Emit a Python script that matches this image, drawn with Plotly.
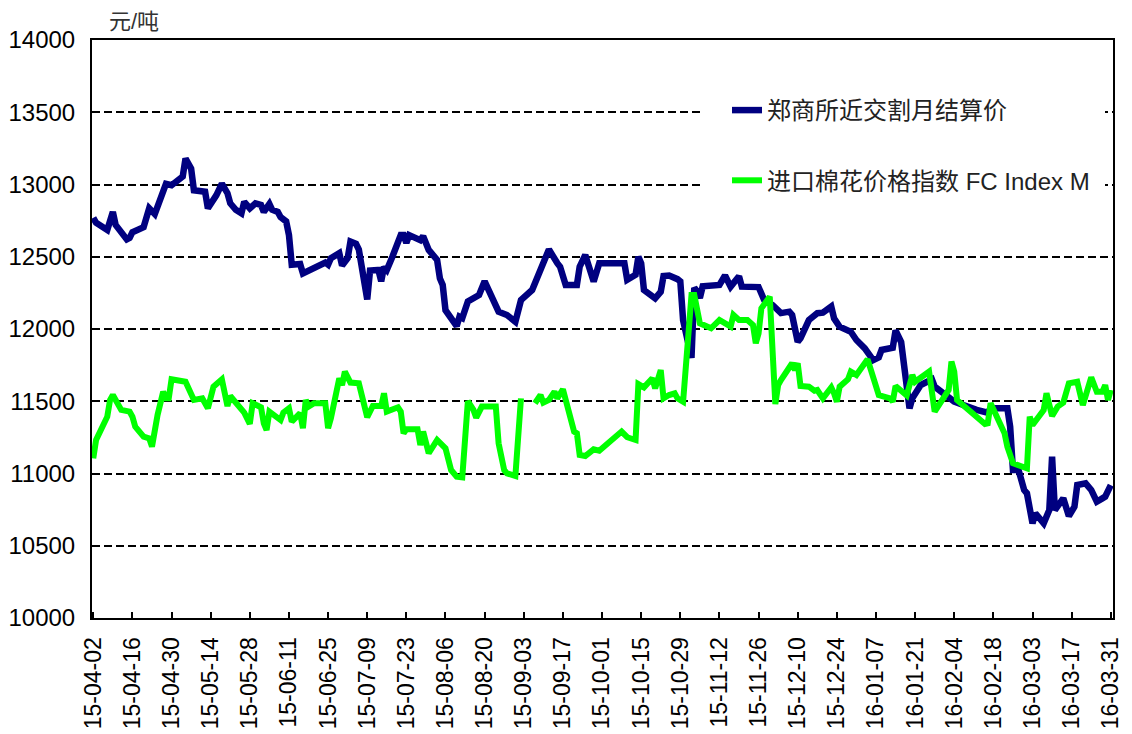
import plotly.graph_objects as go

# 郑商所近交割月结算价 (navy)
zc_dates = ["2015-04-02","2015-04-03","2015-04-07","2015-04-09","2015-04-10","2015-04-14","2015-04-15","2015-04-16","2015-04-20","2015-04-22","2015-04-24","2015-04-28","2015-04-30","2015-05-04","2015-05-05","2015-05-07","2015-05-08","2015-05-12","2015-05-13","2015-05-14","2015-05-16","2015-05-18","2015-05-20","2015-05-21","2015-05-23","2015-05-25","2015-05-26","2015-05-28","2015-05-30","2015-06-01","2015-06-02","2015-06-04","2015-06-05","2015-06-07","2015-06-08","2015-06-10","2015-06-11","2015-06-12","2015-06-15","2015-06-16","2015-06-20","2015-06-24","2015-06-25","2015-06-26","2015-06-29","2015-06-30","2015-07-02","2015-07-03","2015-07-05","2015-07-06","2015-07-09","2015-07-10","2015-07-13","2015-07-14","2015-07-15","2015-07-16","2015-07-18","2015-07-21","2015-07-22","2015-07-23","2015-07-24","2015-07-28","2015-07-29","2015-07-31","2015-08-03","2015-08-04","2015-08-05","2015-08-06","2015-08-10","2015-08-11","2015-08-12","2015-08-14","2015-08-18","2015-08-20","2015-08-25","2015-08-28","2015-08-31","2015-09-02","2015-09-06","2015-09-09","2015-09-10","2015-09-12","2015-09-15","2015-09-16","2015-09-18","2015-09-22","2015-09-23","2015-09-25","2015-09-28","2015-09-30","2015-10-09","2015-10-10","2015-10-13","2015-10-14","2015-10-15","2015-10-16","2015-10-20","2015-10-22","2015-10-23","2015-10-25","2015-10-28","2015-10-29","2015-10-30","2015-11-02","2015-11-03","2015-11-04","2015-11-05","2015-11-06","2015-11-12","2015-11-14","2015-11-16","2015-11-19","2015-11-20","2015-11-25","2015-11-26","2015-11-28","2015-12-01","2015-12-04","2015-12-07","2015-12-08","2015-12-10","2015-12-11","2015-12-14","2015-12-17","2015-12-19","2015-12-22","2015-12-23","2015-12-25","2015-12-29","2015-12-31","2016-01-03","2016-01-06","2016-01-08","2016-01-09","2016-01-13","2016-01-14","2016-01-16","2016-01-19","2016-01-20","2016-01-23","2016-01-25","2016-01-27","2016-01-28","2016-02-01","2016-02-04","2016-02-12","2016-02-16","2016-02-17","2016-02-23","2016-02-24","2016-02-25","2016-02-27","2016-02-29","2016-03-01","2016-03-03","2016-03-04","2016-03-07","2016-03-09","2016-03-10","2016-03-11","2016-03-14","2016-03-16","2016-03-18","2016-03-19","2016-03-22","2016-03-24","2016-03-26","2016-03-28","2016-03-29","2016-03-31"]
zc_values = [12770,12735,12685,12810,12720,12620,12630,12670,12705,12835,12795,13005,12995,13055,13180,13110,12960,12950,12835,12860,12925,13005,12940,12870,12825,12800,12880,12835,12870,12858,12810,12865,12825,12810,12775,12745,12650,12445,12450,12385,12420,12460,12445,12490,12525,12440,12490,12605,12590,12550,12205,12404,12408,12330,12430,12408,12500,12650,12650,12595,12650,12615,12643,12547,12478,12350,12305,12130,12020,12085,12075,12190,12235,12330,12120,12097,12050,12200,12270,12408,12431,12551,12455,12431,12305,12305,12431,12512,12328,12455,12455,12340,12375,12500,12455,12270,12212,12258,12367,12370,12345,12330,12060,11800,12285,12260,12215,12295,12305,12370,12293,12365,12293,12289,12290,12200,12166,12110,12120,12097,11912,11936,12062,12109,12113,12155,12074,12016,11981,11924,11866,11785,11804,11855,11870,11990,11910,11451,11520,11612,11635,11652,11601,11543,11497,11440,11421,11451,11451,11324,11024,11024,10886,10863,10655,10725,10655,10747,11116,10747,10828,10706,10770,10920,10932,10886,10805,10828,10840,10920]

# 进口棉花价格指数 FC Index M (green)
fc_dates = ["2015-04-02","2015-04-03","2015-04-07","2015-04-08","2015-04-09","2015-04-12","2015-04-15","2015-04-16","2015-04-17","2015-04-20","2015-04-22","2015-04-23","2015-04-25","2015-04-27","2015-04-28","2015-04-29","2015-04-30","2015-05-05","2015-05-08","2015-05-11","2015-05-13","2015-05-15","2015-05-18","2015-05-20","2015-05-21","2015-05-23","2015-05-25","2015-05-26","2015-05-28","2015-05-29","2015-06-01","2015-06-02","2015-06-03","2015-06-04","2015-06-08","2015-06-09","2015-06-11","2015-06-12","2015-06-15","2015-06-16","2015-06-17","2015-06-18","2015-06-20","2015-06-24","2015-06-25","2015-06-26","2015-06-29","2015-06-30","2015-07-01","2015-07-03","2015-07-06","2015-07-09","2015-07-11","2015-07-14","2015-07-15","2015-07-16","2015-07-20","2015-07-21","2015-07-22","2015-07-23","2015-07-27","2015-07-28","2015-07-29","2015-07-31","2015-08-03","2015-08-06","2015-08-08","2015-08-10","2015-08-12","2015-08-14","2015-08-16","2015-08-17","2015-08-19","2015-08-24","2015-08-25","2015-08-27","2015-08-28","2015-08-31","2015-09-02","2015-09-04","2015-09-07","2015-09-08","2015-09-09","2015-09-10","2015-09-12","2015-09-14","2015-09-15","2015-09-17","2015-09-19","2015-09-21","2015-09-22","2015-09-23","2015-09-25","2015-09-28","2015-09-30","2015-10-08","2015-10-10","2015-10-13","2015-10-14","2015-10-16","2015-10-19","2015-10-20","2015-10-22","2015-10-23","2015-10-25","2015-10-27","2015-10-28","2015-10-30","2015-11-02","2015-11-03","2015-11-05","2015-11-09","2015-11-12","2015-11-16","2015-11-17","2015-11-19","2015-11-22","2015-11-24","2015-11-25","2015-11-26","2015-11-27","2015-11-30","2015-12-02","2015-12-03","2015-12-04","2015-12-08","2015-12-09","2015-12-10","2015-12-11","2015-12-14","2015-12-16","2015-12-17","2015-12-19","2015-12-22","2015-12-23","2015-12-24","2015-12-25","2015-12-28","2015-12-29","2015-12-31","2016-01-04","2016-01-08","2016-01-12","2016-01-13","2016-01-14","2016-01-18","2016-01-20","2016-01-21","2016-01-26","2016-01-27","2016-01-28","2016-02-02","2016-02-03","2016-02-04","2016-02-05","2016-02-15","2016-02-16","2016-02-17","2016-02-20","2016-02-22","2016-02-23","2016-02-25","2016-03-01","2016-03-02","2016-03-03","2016-03-05","2016-03-07","2016-03-08","2016-03-10","2016-03-12","2016-03-14","2016-03-16","2016-03-19","2016-03-21","2016-03-24","2016-03-26","2016-03-28","2016-03-29","2016-03-30","2016-03-31"]
fc_values = [11105,11232,11393,11509,11543,11440,11428,11393,11324,11255,11243,11186,11405,11566,11520,11520,11652,11635,11509,11520,11451,11601,11652,11467,11536,11486,11440,11421,11343,11486,11458,11347,11301,11428,11370,11421,11451,11359,11417,11313,11509,11463,11486,11486,11313,11382,11659,11612,11705,11629,11624,11389,11467,11467,11555,11428,11458,11428,11278,11306,11306,11197,11290,11140,11232,11174,11024,10978,10973,11500,11440,11386,11463,11463,11209,11024,11001,10983,11520,None,11486,11514,11543,11490,11509,11566,11520,11583,11440,11290,11278,11128,11121,11167,11158,11290,11251,11232,11619,11596,11659,11589,11716,11520,11543,11555,11520,11497,12235,12235,12039,12005,12062,12016,12097,12062,12062,12028,11901,11970,12143,12224,11481,11612,11647,11763,11716,11763,11606,11601,11573,11578,11520,11596,11555,11497,11601,11652,11705,11682,11790,11543,11520,11497,11606,11540,11682,11635,11705,11543,11428,11578,11774,11705,11509,11343,11347,11486,11347,11278,11186,11071,11036,11393,11336,11382,11440,11555,11398,11463,11490,11624,11635,11474,11666,11566,11566,11612,11509,11578]

series_names = ["郑商所近交割月结算价", "进口棉花价格指数 FC Index M"]
series_colors = ["#000080", "#00FF00"]
y_unit = "元/吨"

FONT = "Liberation Sans, Arial, Noto Sans CJK SC, sans-serif"

# The page body has an 8px margin, so the figure is sized 8px smaller than the window.
W, H = 1124, 726
ML, MR, MT, MB = 84, 19, 32, 116
PW, PH = W - ML - MR, H - MT - MB


def px_x(px):  # window pixel -> paper x
    return (px - 8 - ML) / PW


def px_y(py):  # window pixel -> paper y
    return (H - MB - (py - 8)) / PH


fig = go.Figure()
fig.add_trace(go.Scatter(x=zc_dates, y=zc_values, mode="lines", name=series_names[0],
                         legendgroup="a", line=dict(color=series_colors[0], width=6.5)))
fig.add_trace(go.Scatter(x=fc_dates, y=fc_values, mode="lines", name=series_names[1],
                         legendgroup="b", line=dict(color=series_colors[1], width=6)))

fig.update_layout(
    width=W, height=H,
    margin=dict(l=ML, r=MR, t=MT, b=MB),
    paper_bgcolor="white", plot_bgcolor="white",
    font=dict(family=FONT, size=24, color="black"),
    showlegend=True,
    legend=dict(x=px_x(727), y=px_y(88), xanchor="left", yanchor="top",
                bgcolor="white", font=dict(size=24, color="#222"),
                tracegroupgap=36, itemwidth=30),
    annotations=[dict(text=y_unit, xref="paper", yref="paper", x=px_x(107), y=px_y(21),
                      xanchor="left", yanchor="middle", showarrow=False,
                      font=dict(size=22, color="#333"))],
    shapes=[dict(type="rect", xref="paper", yref="paper",
                 x0=px_x(700), x1=px_x(1105), y0=px_y(205), y1=px_y(88),
                 fillcolor="white", line=dict(width=0), layer="above")],
)

fig.update_xaxes(
    type="date", range=["2015-04-01 13:00", "2016-03-31 19:00"],
    tick0="2015-04-02", dtick=14 * 86400000, tickformat="%y-%m-%d",
    tickangle=-90, ticks="inside", ticklen=6, tickwidth=2, tickcolor="black",
    ticklabelstandoff=8, automargin=False,
    showline=True, linecolor="black", linewidth=2, mirror=True,
    showgrid=False, zeroline=False, tickfont=dict(size=23),
)
fig.update_yaxes(
    range=[10000, 14000], dtick=500, tickformat="d",
    ticks="", ticklabelstandoff=10, automargin=False,
    showline=True, linecolor="black", linewidth=2, mirror=True,
    showgrid=True, gridcolor="black", gridwidth=2, griddash="8px,4px",
    zeroline=False, tickfont=dict(size=24),
)

fig.write_html("out.html")
